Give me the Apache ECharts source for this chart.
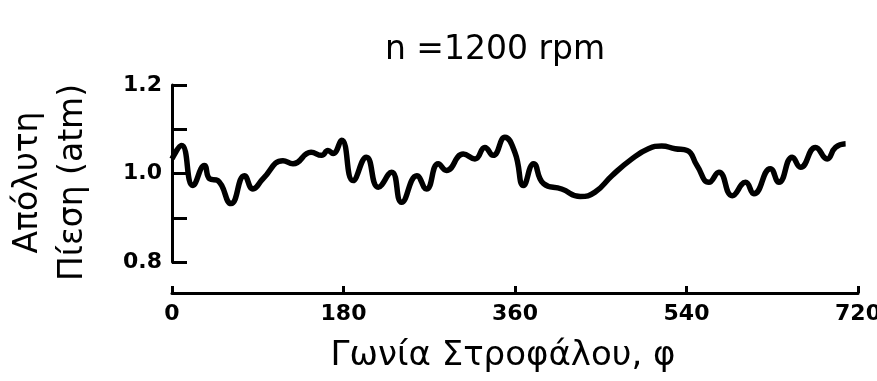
<!DOCTYPE html>
<html>
<head>
<meta charset="utf-8">
<script src="https://cdn.jsdelivr.net/npm/echarts@6/dist/echarts.min.js"></script>
<style>html,body{margin:0;padding:0;background:#fff}#c{width:877px;height:381px}</style>
</head>
<body>
<div id="c"></div>
<script>
var title = 'n =1200 rpm';
var xName = 'Γωνία Στροφάλου, φ';
var yName = 'Απόλυτη\nΠίεση (atm)';
var xTicks = [0, 180, 360, 540, 720];
var yTickLabels = ['0.8', '1.0', '1.2'];
var angles = [0, 10, 22, 34, 39.5, 48, 62, 76, 85, 95.5, 116.5, 127, 146, 157, 163.7, 169, 178,
  190, 204, 216.5, 230.5, 241, 257, 267, 279.5, 288, 305.7, 318, 328.4, 337, 349.4,
  360, 369, 379.5, 390, 409, 428.5, 444, 461.7, 482.7, 500, 514, 528, 540.7,
  551, 563.5, 574, 588, 602, 610.7, 628, 637, 651, 659.7, 675.5, 687.6, 696.4, 707];
var pressure = [1.033, 1.063, 0.973, 1.018, 0.988, 0.984, 0.932, 0.995, 0.965, 0.988, 1.029, 1.022, 1.048, 1.041, 1.052, 1.045, 1.075,
  0.984, 1.037, 0.969, 1.003, 0.935, 0.995, 0.965, 1.022, 1.007, 1.044, 1.033, 1.059, 1.041, 1.082,
  1.047, 0.973, 1.022, 0.977, 0.965, 0.948, 0.958, 0.995, 1.033, 1.056, 1.062, 1.056, 1.052,
  1.018, 0.980, 1.003, 0.950, 0.980, 0.954, 1.011, 0.980, 1.037, 1.014, 1.059, 1.033, 1.059, 1.067];

var data = angles.map(function (a, i) { return [a, pressure[i]]; });
var chart = echarts.init(document.getElementById('c'));
chart.setOption({
  animation: false,
  backgroundColor: '#fff',
  title: {
    text: title, left: 490, top: 29, textAlign: 'center',
    textStyle: { fontFamily: 'DejaVu Sans', fontWeight: 'normal', fontSize: 33, color: '#000' }
  },
  grid: { left: 172, right: 19, top: 85, bottom: 119, containLabel: false, outerBoundsMode: 'none' },
  xAxis: {
    type: 'value', min: 0, max: 720, interval: 180, offset: 31,
    name: xName, nameLocation: 'middle', nameGap: 46,
    nameTextStyle: { fontFamily: 'DejaVu Sans', fontSize: 34, color: '#000', padding: [0, 24, 0, 0] },
    axisLine: { lineStyle: { color: '#000', width: 3 } },
    axisTick: { inside: true, length: 7, lineStyle: { color: '#000', width: 3 } },
    axisLabel: {
      margin: 10, color: '#000', fontFamily: 'DejaVu Sans', fontWeight: 'bold', fontSize: 22,
      formatter: function (v) { return xTicks.indexOf(v) >= 0 ? String(v) : ''; }
    },
    splitLine: { show: false }
  },
  yAxis: {
    type: 'value', min: 0.8, max: 1.2, interval: 0.1,
    name: yName, nameLocation: 'middle', nameGap: 76,
    nameTextStyle: { fontFamily: 'DejaVu Sans', fontSize: 33, color: '#000', lineHeight: 45, padding: [0, 18, 0, 0] },
    axisLine: { lineStyle: { color: '#000', width: 3 } },
    axisTick: { inside: true, length: 15, lineStyle: { color: '#000', width: 3 } },
    axisLabel: {
      margin: 10, color: '#000', fontFamily: 'DejaVu Sans', fontWeight: 'bold', fontSize: 22,
      formatter: function (v) {
        var s = v.toFixed(1);
        return yTickLabels.indexOf(s) >= 0 ? s : '';
      }
    },
    splitLine: { show: false }
  },
  series: [{
    type: 'line', data: data, smooth: 0.5, showSymbol: false,
    lineStyle: { color: '#000', width: 5.5 }
  }]
});
</script>
</body>
</html>
